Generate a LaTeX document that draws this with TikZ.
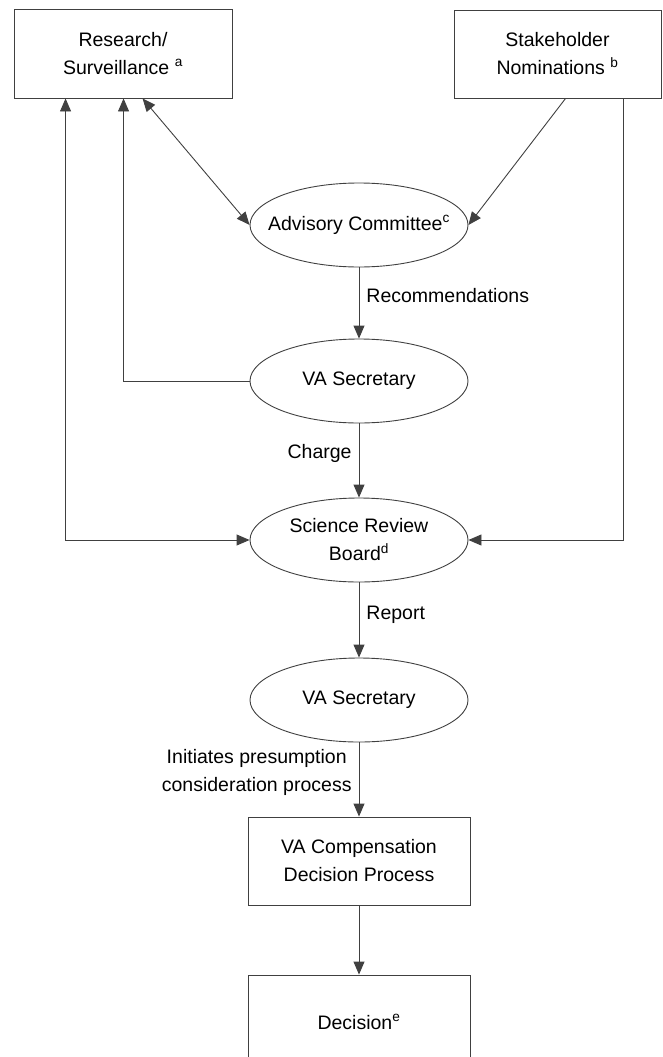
\documentclass[tikz,border=0pt]{standalone}
\usepackage{fontspec}
\setmainfont{Liberation Sans}
\usetikzlibrary{shapes.geometric,arrows.meta}

\tikzset{
  box/.style   = {draw, rectangle, inner sep=0pt, align=center},
  oval/.style  = {draw, ellipse, inner sep=0pt, align=center,
                  minimum width=218pt, minimum height=84pt},
  link/.style  = {draw=black!75, line width=0.9pt},
  tag/.style   = {inner sep=7pt},
}

\begin{document}
\begin{tikzpicture}[x=1pt,y=-1pt,>={Triangle[length=13pt,width=11pt]},
  every node/.style={font=\fontsize{19.5}{28}\selectfont},line width=0.9pt,draw=black!75]
\useasboundingbox (0,0) rectangle (663,1057);

\node [box, minimum width=218pt, minimum height=89pt] (RS)  at (123,53.5) {Research/\\Surveillance \textsuperscript{a}};
\node [box, minimum width=207pt, minimum height=88pt] (SN)  at (557.5,54) {Stakeholder\\Nominations \textsuperscript{b}};
\node [oval, inner xsep=-17pt] (AC)  at (359,225) {Advisory Committee\textsuperscript{c}};
\node [oval] (VA1) at (359,381) {VA Secretary};
\node [oval] (SRB) at (359,540) {Science Review\\Board\textsuperscript{d}};
\node [oval] (VA2) at (359,700) {VA Secretary};
\node [box, minimum width=222pt, minimum height=88pt] (CDP) at (359,861) {VA Compensation\\Decision Process};
\node [box, minimum width=222pt, minimum height=94pt] (DEC) at (359,1022) {Decision\textsuperscript{e}};

% inputs from the top
\draw[link,<->] ([xshift=129pt]RS.south west) -- (AC.west);
\draw[link,->]  ([xshift=112pt]SN.south west) -- (AC.east);
\draw[link,<->] ([xshift=52pt]RS.south west) |- (SRB.west);
\draw[link,->]  (VA1.west) -| ([xshift=110pt]RS.south west);
\draw[link,->]  ([xshift=170pt]SN.south west) |- (SRB.east);

% main chain
\draw[link,->] (AC)  -- node[tag, right, pos=.4] {Recommendations} (VA1);
\draw[link,->] (VA1) -- node[tag, left,  pos=.4] {Charge} (SRB);
\draw[link,->] (SRB) -- node[tag, right, pos=.43] {Report} (VA2);
\draw[link,->] (VA2) -- node[tag, left, pos=.4, align=center] {Initiates presumption\\consideration process} (CDP);
\draw[link,->] (CDP) -- (DEC);
\end{tikzpicture}
\end{document}
